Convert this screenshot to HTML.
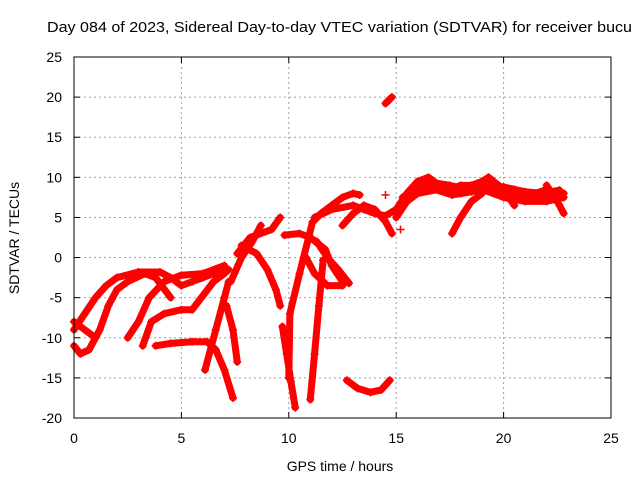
<!DOCTYPE html>
<html><head><meta charset="utf-8"><style>
body{margin:0;background:#fff;font-family:"Liberation Sans",sans-serif}
</style></head><body>
<svg id="c" width="640" height="480" xmlns="http://www.w3.org/2000/svg" font-family="Liberation Sans, sans-serif" font-size="13">
<rect width="640" height="480" fill="#fff"/>
<text x="47" y="32" font-size="15" textLength="585" lengthAdjust="spacingAndGlyphs">Day 084 of 2023, Sidereal Day-to-day VTEC variation (SDTVAR) for receiver bucu</text>
<text x="340" y="471" text-anchor="middle" font-size="14">GPS time / hours</text>
<text transform="translate(19,238) rotate(-90)" text-anchor="middle" font-size="14">SDTVAR / TECUs</text>
<g id="grid"></g><g id="marks"></g><g id="axes"></g>
</svg>
<script>
const xTicks=[0,5,10,15,20,25];
const yTicks=[-20,-15,-10,-5,0,5,10,15,20,25];
const trackA=[[0,-9],[0.5,-7],[1,-5],[1.5,-3.5],[2,-2.5],[3,-1.8],[4,-1.8],[4.5,-2.5],[5,-3.5],[5.5,-3],[6,-2.5],[6.5,-2],[7,-1.5]];
const trackB=[[0,-11],[0.3,-12],[0.7,-11.5],[1.2,-9],[1.6,-6],[2,-4],[2.5,-3],[3.3,-2],[3.8,-2.5],[4.5,-5]];
const trackC=[[0,-8],[0.5,-9],[1,-10]];
const trackD=[[2.5,-10],[3,-8],[3.5,-5],[4.2,-3],[5,-2.2],[6,-2],[7,-1]];
const trackE=[[3.2,-11],[3.6,-8],[4.2,-7],[5,-6.5],[5.5,-6.5],[6.5,-3],[7,-2],[7.2,-1.5]];
const trackF=[[3.8,-11],[4.5,-10.7],[5.5,-10.5],[6.2,-10.5],[6.6,-11.5],[7,-14],[7.4,-17.5]];
const trackG=[[6.1,-14],[6.6,-9],[7,-5],[7.2,-3]];
const trackH=[[7.1,-6],[7.4,-9],[7.6,-13]];
const trackI=[[7.3,-3],[7.8,0],[8.3,2],[8.7,4]];
const trackJ=[[7.6,0.5],[8.2,2.5],[9.2,3.5],[9.6,5]];
const trackK=[[7.8,1.5],[8.5,0.5],[9,-1.5],[9.4,-4],[9.6,-6]];
const trackL=[[9.8,2.8],[10.5,3],[11,2.5],[11.7,1],[12,-1],[12.5,-3]];
const trackM=[[9.7,-8.6],[9.9,-12],[10.1,-15.5],[10.3,-18.7]];
const trackN=[[10,-15],[10.05,-7],[10.5,-2],[11.1,4.4],[11.5,5.5],[12,6.5],[12.5,7.5],[13,8],[13.3,7.8]];
const trackO=[[11,-17.7],[11.2,-12],[11.4,-6],[11.6,-0.3]];
const trackP=[[12.7,-15.3],[13.2,-16.3],[13.8,-16.8],[14.3,-16.5],[14.7,-15.3]];
const trackQ=[[14.5,19.2],[14.8,20]];
const trackR=[[11.2,5],[12,6],[13,6.5],[13.5,6],[14,5.5],[14.5,5.2],[15,6]];
const trackS=[[12.5,4],[13,5.5],[13.5,6.5],[14,6],[14.5,4.5],[14.8,3]];
const trackT=[[10.8,0],[11.2,-2],[11.8,-3.5],[12.5,-3.5]];
const trackU=[[11.3,2],[11.8,0],[12.3,-1.5],[12.8,-3.2]];
const trackV=[[15,6],[15.5,8],[16,9.5],[16.5,10],[17,9],[17.5,8.5],[18,9],[18.5,9],[19,9.5],[19.3,10],[20,8],[20.5,8.5],[21,8],[21.5,8],[22,8.5],[22.5,7.5],[22.8,8]];
const trackW=[[15,5],[15.5,7],[16,8],[17,8.5],[18,8],[19,8.5],[20,7.5],[21,7],[22,7],[22.8,7.5]];
const trackW2=[[15.3,7.5],[16,8.8],[16.8,9.3],[17.5,9],[18.3,8.5],[19.2,9],[20,8.8],[21,8.2],[21.8,8],[22.6,8.4]];
const trackW3=[[16,8],[16.8,8.5],[17.6,7.8],[18.5,8.2],[19.5,9],[20.3,7.6],[21.5,7.6],[22.4,7.2]];
const trackX=[[17.6,3],[18,5],[18.5,7],[19,8]];
const trackY=[[19.3,10],[20,8.5],[20.5,6.5]];
const trackZ=[[22,9],[22.5,7],[22.8,5.5]];
const trackIso=[[15.2,3.5],[14.5,7.8],[15.6,8.2],[16.5,8.5]];
const tracks=[trackA,trackB,trackC,trackD,trackE,trackF,trackG,trackH,trackI,trackJ,trackK,trackL,trackM,trackN,trackO,trackP,trackQ,trackR,trackS,trackT,trackU,trackV,trackW,trackW2,trackW3,trackX,trackY,trackZ];
const NS="http://www.w3.org/2000/svg";
const X0=74,X1=611,Y0=418,Y1=57;
const xs=t=>X0+(t-0)/25*(X1-X0);
const ys=v=>Y0-(v+20)/45*(Y0-Y1);
function mk(tag,at,parent){const e=document.createElementNS(NS,tag);for(const k in at)e.setAttribute(k,at[k]);parent.appendChild(e);return e;}
const grid=document.getElementById('grid'),marks=document.getElementById('marks'),axes=document.getElementById('axes');
xTicks.forEach(t=>{
 if(t>0&&t<25){const l=mk('line',{x1:xs(t),x2:xs(t),y1:Y1,y2:Y0,stroke:'#a0a0a0','stroke-dasharray':'2,3'},grid);
 
 }
 mk('line',{x1:xs(t),x2:xs(t),y1:Y0,y2:Y0-6,stroke:'#000'},axes);
 mk('line',{x1:xs(t),x2:xs(t),y1:Y1,y2:Y1+6,stroke:'#000'},axes);
 const tx=mk('text',{x:xs(t),y:Y0+25,'text-anchor':'middle','font-size':14},axes);tx.textContent=t;
 
 
});
yTicks.forEach(v=>{
 if(v>-20&&v<25){const l=mk('line',{x1:X0,x2:X1,y1:ys(v),y2:ys(v),stroke:'#a0a0a0','stroke-dasharray':'2,3'},grid);
 
 }
 mk('line',{x1:X0,x2:X0+6,y1:ys(v),y2:ys(v),stroke:'#000'},axes);
 mk('line',{x1:X1,x2:X1-6,y1:ys(v),y2:ys(v),stroke:'#000'},axes);
 const tx=mk('text',{x:X0-12,y:ys(v)+5,'text-anchor':'end','font-size':14},axes);tx.textContent=v;
 
 
});
const fr=mk('rect',{x:X0,y:Y1,width:X1-X0,height:Y0-Y1,fill:'none',stroke:'#000'},axes);


tracks.forEach(tr=>{
 const pl=mk('polyline',{points:tr.map(p=>xs(p[0])+','+ys(p[1])).join(' '),fill:'none',stroke:'#f00','stroke-width':7,'stroke-linejoin':'round','stroke-linecap':'round'},marks);
 
 
 tr.forEach(p=>{const x=xs(p[0]),y=ys(p[1]);
  const c=mk('path',{d:`M${x-4},${y}H${x+4}M${x},${y-4}V${y+4}`,stroke:'#f00','stroke-width':1.5},marks);
  
  });
});
trackIso.forEach(p=>{const x=xs(p[0]),y=ys(p[1]);
 const c=mk('path',{d:`M${x-4},${y}H${x+4}M${x},${y-4}V${y+4}`,stroke:'#f00','stroke-width':1.5},marks);
 
 });
</script>
</body></html>
